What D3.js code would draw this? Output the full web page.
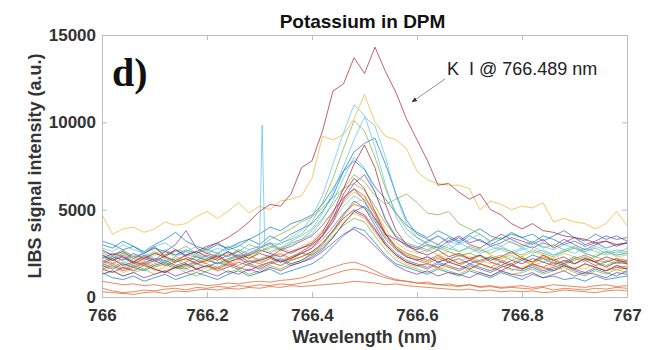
<!DOCTYPE html>
<html>
<head>
<meta charset="utf-8">
<script src="https://cdn.jsdelivr.net/npm/d3@7/dist/d3.min.js"></script>
<style>
body { margin: 0; background: #fff; }
text { font-family: "Liberation Sans", Arial, sans-serif; }
</style>
</head>
<body>
<div id="chart"></div>
<script>
// wavelength grid (nm), one sample every 0.02 nm
var wavelength = [766.00,766.02,766.04,766.06,766.08,766.10,766.12,766.14,766.16,766.18,
  766.20,766.22,766.24,766.26,766.28,766.30,766.32,766.34,766.36,766.38,
  766.40,766.42,766.44,766.46,766.48,766.50,766.52,766.54,766.56,766.58,
  766.60,766.62,766.64,766.66,766.68,766.70,766.72,766.74,766.76,766.78,
  766.80,766.82,766.84,766.86,766.88,766.90,766.92,766.94,766.96,766.98,767.00];

var xTicks = [766, 766.2, 766.4, 766.6, 766.8, 767];
var yTicks = [0, 5000, 10000, 15000];

// spectra (a.u.)
var blueA = [2300,2100,2400,2000,1900,2200,2100,1800,2000,2300,
  2100,1900,2200,2400,2000,2100,2300,2000,2200,2500,
  2400,2800,3400,4200,4900,5200,4500,3600,2900,2500,
  2300,2100,2400,2000,2200,1900,2100,2300,2000,1800,
  2100,2400,2200,1900,2000,2300,2100,1800,2000,2200,1900];
var orangeA = [500,350,250,300,400,350,450,500,400,550,
  500,600,550,650,600,700,650,750,700,800,
  900,1100,1300,1500,1600,1500,1300,1100,950,900,
  800,750,700,650,600,700,550,600,500,550,
  500,450,550,400,500,450,400,500,450,550,500];
var yellowHigh = [4700,3600,3900,4000,3700,3900,4300,4100,4200,4600,
  4900,4500,4900,5400,4800,5200,5000,5500,5600,5800,
  6800,9200,9000,9300,10200,11600,10000,9200,9000,8500,
  7200,6700,6500,6400,6400,6200,5000,5500,5300,5000,
  5200,5100,5400,4300,4500,4300,4200,3900,4200,4900,4100];
var purpleA = [2200,2500,2300,2000,2400,2100,2600,3000,3800,2800,
  2500,2300,2600,2200,2400,2700,2500,2300,2600,2800,
  3000,3500,4300,5600,6500,7000,6000,4400,3400,2900,
  2700,3000,2800,3200,3500,3100,3300,2900,3100,3400,
  3200,3000,3300,2800,3100,3400,3000,3200,3500,3300,3400];
var greenA = [1900,1700,2000,1800,1600,1900,2100,1800,1700,2000,
  2200,1900,2100,2400,2200,2600,2800,3100,3300,3600,
  4300,5400,6800,8500,10100,9500,8000,6200,4800,3900,
  3400,3000,2800,2600,2400,2500,2300,2200,2400,2100,
  2300,2000,2200,2100,1900,2200,2000,2300,2100,1900,2000];
var cyanA = [2800,2600,3000,2700,2500,2900,3100,2700,2600,2900,
  2700,2500,2800,3000,2700,2900,3100,3000,3400,3800,
  4600,5800,7600,9400,11000,10400,8600,6400,4600,3600,
  3100,2900,2700,3000,2600,2800,2500,2700,2900,2600,
  2800,2500,2700,2400,2600,2800,2500,2300,2600,2400,2500];
// narrow spike of cyanA near 766.31 nm
var cyanSpikeWl = [766.305, 766.31];
var cyanSpikeVal = [9850, 3000];
var redBig = [2400,2100,2300,1900,2200,2500,2300,2700,2400,2600,
  2900,3100,3400,3800,4300,4900,5300,5200,5900,7400,
  7800,9500,11800,12200,13700,12800,14300,12900,11700,10200,
  9000,7800,6400,6500,6000,5600,5900,5000,4700,4200,
  3900,4200,3800,3700,3500,3400,3300,3100,3200,3000,3100];
var blueB = [3200,3000,2700,2900,2500,2800,2600,2400,2700,2500,
  2800,3100,2700,2900,3300,3000,3500,3200,3600,3900,
  4200,4900,5800,7200,8300,8800,9100,7600,5900,4400,
  3600,3300,3000,3400,3100,3500,3200,3000,3300,3600,
  3400,3100,3500,3300,3000,3200,2900,3100,2800,3000,3100];
var orangeB = [300,250,200,150,250,300,200,350,300,400,
  450,400,500,450,550,500,600,550,650,600,
  650,700,750,800,900,850,800,700,750,650,
  600,550,500,450,400,450,350,400,300,350,
  300,350,250,300,400,350,300,250,350,400,350];
var orangeC = [900,800,700,750,650,700,600,650,700,750,
  650,700,800,750,850,900,850,950,1000,1100,
  1300,1500,1700,1900,2000,1800,1500,1200,1000,900,
  800,850,700,750,650,700,600,650,550,600,
  650,550,600,700,650,600,550,650,700,600,650];
var yellowB = [1800,2000,1700,1900,2100,1800,2000,2200,1900,1700,
  2000,2200,1900,2100,2300,2000,2200,2400,2100,2300,
  2600,3000,3700,4600,5400,5600,4800,3700,2900,2500,
  2300,2100,2400,2200,2000,2300,2100,1900,2200,2400,
  2100,1900,2200,2000,1800,2100,2300,2000,1800,2100,2000];
var purpleB = [1600,1800,1500,1700,1900,1600,1400,1700,1900,1600,
  1800,1500,1700,2000,1800,1600,1900,2100,1800,2000,
  2300,2700,3400,4200,4900,4600,3800,3000,2400,2000,
  1800,1600,1900,1700,1500,1800,1600,1400,1700,1900,
  1600,1800,1500,1700,1900,1600,1400,1700,1500,1800,1600];
var greenB = [2400,2200,2500,2100,2300,2600,2200,2000,2400,2300,
  2100,2500,2300,2700,2400,2600,2900,2700,3100,3300,
  3800,4500,5300,6200,7000,6600,5800,5300,5600,5900,
  5400,4800,4700,4900,4200,3900,3600,3200,3400,3100,
  2900,3200,2800,3000,2700,2900,2600,2800,2500,2700,2600];
var cyanB = [2200,2400,2100,2300,2500,2200,2000,2300,2600,2400,
  2200,2500,2300,2700,2500,2800,3000,2800,3200,3500,
  3900,4800,6000,7500,9000,10300,9800,8000,5800,4200,
  3400,3100,3500,3200,3000,3300,3600,3100,2900,3200,
  2800,3100,2900,2700,3000,2800,2600,2900,2700,2500,2800];
var redB = [2700,2400,2600,2200,2500,2900,2300,2100,2400,2600,
  2300,2100,2400,2600,2200,2500,2300,2700,2500,2800,
  3100,3700,4800,6200,7600,8700,7400,5300,3800,3000,
  2600,2400,2700,2300,2500,2200,2400,2100,2300,2600,
  2200,2000,2400,2100,2300,1900,2200,2000,2300,2100,2000];
var blueC = [1400,1100,1000,1200,900,1100,1300,1000,1200,1400,
  1200,1000,1300,1500,1200,1400,1600,1300,1500,1700,
  1900,2300,2900,3500,4000,3800,3100,2400,1900,1700,
  1500,1300,1600,1400,1200,1500,1300,1100,1400,1200,
  1000,1300,1100,1200,1000,1100,900,1200,1000,1100,1200];
var orangeD = [1700,1900,1600,1800,2000,1700,1900,1600,1800,2100,
  1900,1700,2000,1800,2100,1900,2200,2000,2300,2500,
  2800,3300,4000,4800,5300,5100,4300,3300,2700,2300,
  2100,1900,2200,2000,1800,2100,1900,1700,2000,1800,
  1600,1900,1700,2000,1800,1600,1900,1700,1500,1800,1700];
var yellowC = [2400,2200,2500,2300,2100,2400,2600,2300,2100,2400,
  2600,2300,2500,2200,2400,2700,2500,2800,2600,2900,
  3200,3800,4600,5400,6000,5700,4900,3900,3100,2700,
  2500,2700,2400,2600,2300,2500,2800,2400,2200,2500,
  2300,2600,2400,2200,2500,2300,2100,2400,2600,2300,2400];
var purpleC = [2000,2300,2100,2500,2200,2000,2400,2700,2300,2100,
  2400,2200,2600,2300,2500,2800,3100,2700,2900,3200,
  3500,4100,4900,5700,6200,5500,4500,3600,3300,3000,
  2800,3200,3500,3100,3400,3000,2800,3200,3600,3300,
  3000,2800,3100,2900,3300,3000,2700,3000,3200,2900,3100];
var greenC = [1300,1500,1200,1400,1600,1300,1500,1700,1400,1200,
  1500,1700,1400,1600,1300,1500,1800,1600,1900,2100,
  2400,2900,3500,4100,4500,4300,3500,2700,2100,1800,
  1600,1400,1700,1500,1300,1600,1400,1200,1500,1300,
  1400,1600,1300,1500,1700,1400,1200,1500,1300,1600,1400];
var cyanC = [1800,2100,1900,1700,2000,2200,1900,2100,1800,2000,
  2200,1900,2100,2300,2000,2200,2400,2100,2300,2600,
  2900,3500,4300,5200,5800,5400,4400,3400,2700,2300,
  2100,2300,2000,2200,2400,2100,1900,2200,2000,2300,
  2100,1800,2000,2200,1900,2100,2300,2000,1800,2000,2100];
var redC = [1600,1400,1700,1500,1800,1600,1400,1700,1900,1600,
  1800,1600,1900,1700,1500,1800,2000,1800,2100,2300,
  2600,3100,3800,4500,5000,4700,3900,3000,2400,2000,
  1800,1900,1700,2000,1800,1600,1900,1700,1500,1800,
  1600,1900,1700,1500,1800,1600,1900,1700,1500,1700,1600];
var blueD = [3000,2800,3200,2900,2600,3000,3300,3700,3200,2900,
  2700,3000,2800,3100,3300,3600,4000,3800,4200,4400,
  4700,5300,6200,7200,7800,7300,6300,5600,4800,4100,
  3700,3400,3800,3500,3200,3600,3900,3500,3300,3700,
  3400,3600,3200,3500,3800,3400,3200,3600,3300,3500,3200];
var orangeE = [2100,1900,2200,2000,1800,2100,2300,2000,2200,1900,
  2100,2300,2000,2200,2400,2100,2300,2500,2200,2600,
  3000,3600,4500,5500,6200,5800,4700,3500,2800,2400,
  2200,2000,2300,2100,2400,2200,2000,2300,2100,1900,
  2200,2000,2300,2100,1900,2200,2400,2100,2000,2200,2100];
var yellowD = [1500,1700,1400,1600,1800,1500,1700,1900,1600,1400,
  1700,1500,1800,1600,1900,1700,2000,1800,2100,2300,
  2500,3000,3700,4300,4800,4500,3700,2900,2300,1900,
  1700,1900,1600,1800,1500,1700,1900,1600,1800,1500,
  1700,1900,1600,1800,1500,1700,1600,1900,1700,1500,1800];
var purpleD = [1300,1500,1200,1400,1100,1300,1500,1200,1400,1600,
  1400,1200,1500,1300,1600,1400,1700,1500,1800,2000,
  2200,2600,3100,3600,3900,3500,2900,2300,1800,1500,
  1300,1500,1200,1400,1300,1100,1400,1200,1500,1300,
  1200,1400,1100,1300,1500,1200,1400,1300,1100,1400,1300];
var greenD = [2600,2400,2700,2300,2500,2800,2400,2600,2900,2500,
  2700,2500,2900,2600,3000,2800,3300,3600,3900,4300,
  4600,5100,5700,6200,6500,6100,5200,4200,3500,3100,
  2900,2700,3000,2800,2600,2900,2700,2500,2800,2600,
  2400,2700,2500,2300,2600,2800,2500,2300,2600,2400,2500];
var cyanD = [2500,2300,2600,2400,2200,2500,2700,2400,2600,2300,
  2500,2800,2600,2400,2700,2900,2600,2800,3000,3300,
  3600,4400,5500,6800,8000,7400,6000,4500,3500,3000,
  2800,2600,2900,2700,3100,2800,2600,2900,2700,2500,
  2700,2900,2600,2400,2700,2500,2800,2600,2400,2600,2500];
var redD = [1900,2200,1800,2000,2300,2100,1800,2000,2200,1900,
  2100,2400,2000,2200,1900,2100,2300,2000,2200,2500,
  2800,3500,4500,5900,6800,6200,4900,3600,2800,2300,
  2100,2300,2000,2200,1900,2100,2400,2000,1800,2100,
  1900,2200,2000,1800,2100,1900,2200,2000,1700,2000,1900];
var blueE = [1800,1600,1900,1700,1500,1800,2000,1700,1600,1900,
  1700,2000,1800,1600,1900,1700,2000,2200,1900,2100,
  2500,3000,3800,4700,5500,5100,4100,3100,2500,2100,
  1900,1700,2000,1800,1600,1900,1700,1500,1800,1600,
  1500,1700,1400,1600,1800,1500,1300,1600,1400,1200,1500];

// MATLAB default colour order
var C = {blue: "#0072BD", orange: "#D95319", yellow: "#EDB120", purple: "#7E2F8E",
  green: "#77AC30", cyan: "#4DBEEE", red: "#A2142F"};

function pts(vals) {
  return wavelength.map(function(w, i) { return [w, vals[i]]; });
}

var cyanAPts = pts(cyanA).concat(cyanSpikeWl.map(function(w, i) { return [w, cyanSpikeVal[i]]; }))
  .sort(function(a, b) { return a[0] - b[0]; });

var series = [
  {p: pts(blueA), c: C.blue}, {p: pts(orangeA), c: C.orange}, {p: pts(yellowB), c: C.yellow},
  {p: pts(purpleB), c: C.purple}, {p: pts(greenC), c: C.green}, {p: pts(cyanC), c: C.cyan},
  {p: pts(redC), c: C.red}, {p: pts(blueC), c: C.blue}, {p: pts(orangeB), c: C.orange},
  {p: pts(yellowC), c: C.yellow}, {p: pts(purpleC), c: C.purple}, {p: pts(greenD), c: C.green},
  {p: pts(cyanD), c: C.cyan}, {p: pts(redD), c: C.red}, {p: pts(blueE), c: C.blue},
  {p: pts(orangeC), c: C.orange}, {p: pts(yellowD), c: C.yellow}, {p: pts(purpleD), c: C.purple},
  {p: pts(orangeD), c: C.orange}, {p: pts(orangeE), c: C.orange}, {p: pts(blueD), c: C.blue},
  {p: pts(purpleA), c: C.purple}, {p: pts(greenB), c: C.green}, {p: pts(redB), c: C.red},
  {p: pts(blueB), c: C.blue}, {p: pts(cyanB), c: C.cyan}, {p: pts(greenA), c: C.green},
  {p: cyanAPts, c: C.cyan}, {p: pts(yellowHigh), c: C.yellow}, {p: pts(redBig), c: C.red}
];

var width = 658, height = 350;
var margin = {top: 35, right: 31, bottom: 53, left: 102};
var w = width - margin.left - margin.right,
    h = height - margin.top - margin.bottom;

var svg = d3.select("#chart").append("svg")
    .attr("width", width)
    .attr("height", height);

var g = svg.append("g")
    .attr("transform", "translate(" + margin.left + "," + margin.top + ")");

var x = d3.scaleLinear().domain([766, 767]).range([0, w]),
    y = d3.scaleLinear().domain([0, 15000]).range([h, 0]);

g.append("clipPath").attr("id", "clip")
  .append("rect").attr("width", w).attr("height", h);

var line = d3.line()
    .x(function(d) { return x(d[0]); })
    .y(function(d) { return y(d[1]); });

g.append("g").attr("clip-path", "url(#clip)")
  .selectAll("path")
  .data(series)
  .enter().append("path")
    .attr("d", function(d) { return line(d.p); })
    .attr("fill", "none")
    .attr("stroke", function(d) { return d.c; })
    .attr("stroke-width", 0.85)
    .attr("stroke-opacity", 0.8);

function styleAxis(sel) {
  sel.select(".domain").attr("stroke", "#bdbdbd");
  sel.selectAll(".tick line").attr("stroke", "#bdbdbd");
  sel.selectAll(".tick text")
    .attr("fill", "#333")
    .style("font-size", "17px")
    .style("font-weight", "bold")
    .style("font-family", "'Liberation Sans', Arial, sans-serif");
}

g.append("g")
    .attr("transform", "translate(0," + h + ")")
    .call(d3.axisBottom(x).tickValues(xTicks).tickSize(-5).tickSizeOuter(0).tickPadding(12)
      .tickFormat(d3.format("")))
    .call(styleAxis);

g.append("g")
    .call(d3.axisTop(x).tickValues(xTicks).tickSize(-5).tickSizeOuter(0).tickFormat(""))
    .call(styleAxis);

g.append("g")
    .call(d3.axisLeft(y).tickValues(yTicks).tickSize(-5).tickSizeOuter(0).tickPadding(6)
      .tickFormat(d3.format("d")))
    .call(styleAxis);

g.append("g")
    .attr("transform", "translate(" + w + ",0)")
    .call(d3.axisRight(y).tickValues(yTicks).tickSize(-5).tickSizeOuter(0).tickFormat(""))
    .call(styleAxis);

// title and axis labels
svg.append("text")
    .attr("x", margin.left + w / 2 - 2).attr("y", 28)
    .attr("text-anchor", "middle")
    .style("font-size", "19px").style("font-weight", "bold").attr("fill", "#111")
    .text("Potassium in DPM");

svg.append("text")
    .attr("x", margin.left + w / 2).attr("y", 343)
    .attr("text-anchor", "middle")
    .style("font-size", "18px").style("font-weight", "bold").attr("fill", "#333")
    .text("Wavelength (nm)");

svg.append("text")
    .attr("transform", "translate(41," + (margin.top + h / 2) + ") rotate(-90)")
    .attr("text-anchor", "middle")
    .style("font-size", "18px").style("font-weight", "bold").attr("fill", "#333")
    .text("LIBS signal intensity (a.u.)");

// panel label
svg.append("text")
    .attr("x", 112).attr("y", 86)
    .style("font-family", "'Liberation Serif', 'Times New Roman', serif")
    .style("font-size", "40px").style("font-weight", "bold").attr("fill", "#111")
    .text("d)");

// annotation with arrow
svg.append("defs").append("marker")
    .attr("id", "arrow").attr("viewBox", "0 0 10 10")
    .attr("refX", 9).attr("refY", 5)
    .attr("markerWidth", 7).attr("markerHeight", 7)
    .attr("orient", "auto")
  .append("path").attr("d", "M0,1L10,5L0,9Z").attr("fill", "#333");

svg.append("line")
    .attr("x1", 445).attr("y1", 79).attr("x2", 412).attr("y2", 102)
    .attr("stroke", "#777").attr("stroke-width", 0.8)
    .attr("marker-end", "url(#arrow)");

svg.append("text")
    .attr("x", 447).attr("y", 75)
    .attr("xml:space", "preserve")
    .style("white-space", "pre")
    .style("font-size", "18px").attr("fill", "#222")
    .text("K  I @ 766.489 nm");
</script>
</body>
</html>
